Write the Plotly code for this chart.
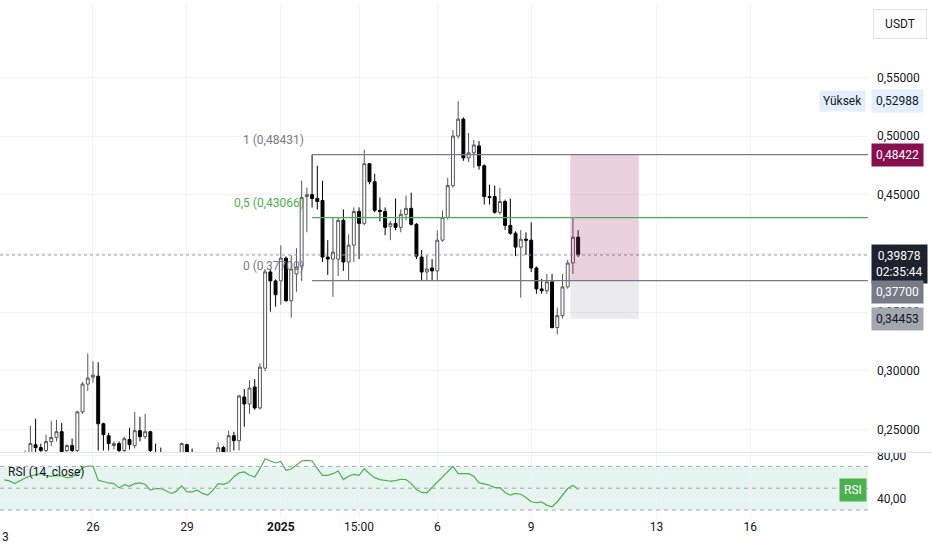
"""4h candles with fib levels, long position box and RSI - redrawn from a TradingView screenshot"""

import pandas as pd
import plotly.graph_objects as go

# candle data (4h bars, first bar 23 Dec 04:00)
opens = [0.222, 0.221, 0.219, 0.222, 0.226, 0.229, 0.2372, 0.2347, 0.2322, 0.2398,
         0.2432, 0.2482, 0.2322, 0.2364, 0.2322, 0.2651, 0.2888, 0.2947, 0.2955, 0.2550,
         0.2448, 0.2364, 0.2381, 0.2322, 0.2415, 0.2364, 0.2491, 0.2440, 0.2482, 0.2300,
         0.2270, 0.2250, 0.2240, 0.2220, 0.2250, 0.2372, 0.2280, 0.2250, 0.2230, 0.2210,
         0.2240, 0.2270, 0.2347, 0.2300, 0.2448, 0.2406, 0.2778, 0.2719, 0.2863, 0.2685,
         0.3023, 0.3843, 0.3767, 0.3767, 0.3961, 0.3598, 0.3826, 0.3894, 0.4485, 0.4502,
         0.4469, 0.4452, 0.3970, 0.3953, 0.3953, 0.4283, 0.3928, 0.4071, 0.4359, 0.4257,
         0.4765, 0.4612, 0.4368, 0.4359, 0.4232, 0.4257, 0.4223, 0.4334, 0.4385, 0.4249,
         0.3970, 0.3843, 0.3877, 0.3852, 0.4114, 0.4308, 0.4579, 0.5001, 0.5145, 0.4815,
         0.4858, 0.4917, 0.4748, 0.4485, 0.4485, 0.4351, 0.4443, 0.4240, 0.4173, 0.4055,
         0.4122, 0.4114, 0.3877, 0.3699, 0.3683, 0.3759, 0.3370, 0.3471, 0.3716, 0.3919,
         0.4139]
highs = [0.226, 0.225, 0.224, 0.227, 0.2322, 0.2532, 0.2592, 0.2380, 0.2457, 0.2575,
         0.2583, 0.2558, 0.2375, 0.2423, 0.2660, 0.2905, 0.3150, 0.3082, 0.3074, 0.2560,
         0.2473, 0.2400, 0.2400, 0.2440, 0.2516, 0.2651, 0.2609, 0.2634, 0.2490, 0.2381,
         0.2347, 0.2280, 0.2270, 0.2260, 0.2390, 0.2380, 0.2339, 0.2280, 0.2270, 0.2260,
         0.2280, 0.2390, 0.2360, 0.2491, 0.2482, 0.2795, 0.2846, 0.2922, 0.2930, 0.3065,
         0.3860, 0.3870, 0.3780, 0.4071, 0.3975, 0.3987, 0.4046, 0.4621, 0.4562, 0.4843,
         0.4748, 0.4621, 0.4114, 0.4308, 0.4308, 0.4376, 0.4164, 0.4393, 0.4393, 0.4883,
         0.4770, 0.4680, 0.4477, 0.4393, 0.4280, 0.4469, 0.4376, 0.4494, 0.4519, 0.4260,
         0.4030, 0.3987, 0.3953, 0.4198, 0.4368, 0.4646, 0.5052, 0.52988, 0.5160, 0.5027,
         0.4968, 0.4959, 0.4760, 0.4587, 0.4579, 0.4562, 0.4460, 0.4469, 0.4190, 0.4200,
         0.4180, 0.4266, 0.3890, 0.3784, 0.3826, 0.3826, 0.3539, 0.3826, 0.3945, 0.4307,
         0.4198]
lows = [0.217, 0.216, 0.214, 0.218, 0.221, 0.226, 0.230, 0.228, 0.229, 0.236,
        0.240, 0.226, 0.228, 0.228, 0.229, 0.2634, 0.2829, 0.2900, 0.2322, 0.2322,
        0.2322, 0.2330, 0.2280, 0.2290, 0.2330, 0.2340, 0.2400, 0.2420, 0.2290, 0.2220,
        0.2200, 0.2190, 0.2180, 0.2170, 0.2230, 0.2240, 0.2210, 0.2190, 0.2180, 0.2170,
        0.2200, 0.2250, 0.2270, 0.2280, 0.2322, 0.2322, 0.2524, 0.2634, 0.2670, 0.2670,
        0.2998, 0.3505, 0.3547, 0.3564, 0.3590, 0.3454, 0.3674, 0.3767, 0.4181, 0.4393,
        0.4376, 0.3928, 0.3818, 0.3632, 0.3809, 0.3852, 0.3767, 0.3928, 0.3953, 0.4240,
        0.4590, 0.4351, 0.4274, 0.4156, 0.4114, 0.4198, 0.4181, 0.4283, 0.4240, 0.3953,
        0.3767, 0.3770, 0.3770, 0.3770, 0.4100, 0.4290, 0.4560, 0.4980, 0.4790, 0.4780,
        0.4731, 0.4714, 0.4418, 0.4418, 0.4340, 0.4330, 0.4200, 0.4160, 0.3978, 0.3624,
        0.3987, 0.3843, 0.3657, 0.3657, 0.3657, 0.3361, 0.3311, 0.3446, 0.3700, 0.3826,
        0.3970]
closes = [0.221, 0.219, 0.222, 0.226, 0.229, 0.2381, 0.2347, 0.2322, 0.2398, 0.2432,
          0.2482, 0.2313, 0.2364, 0.2322, 0.2651, 0.2888, 0.2939, 0.2964, 0.2550, 0.2457,
          0.2381, 0.2381, 0.2322, 0.2423, 0.2372, 0.2491, 0.2440, 0.2482, 0.2322, 0.2270,
          0.2250, 0.2240, 0.2220, 0.2250, 0.2381, 0.2280, 0.2250, 0.2230, 0.2210, 0.2240,
          0.2270, 0.2347, 0.2310, 0.2448, 0.2406, 0.2787, 0.2719, 0.2854, 0.2685, 0.3032,
          0.3843, 0.3767, 0.3649, 0.3961, 0.3598, 0.3868, 0.3885, 0.4477, 0.4502, 0.4469,
          0.4443, 0.3970, 0.3953, 0.4012, 0.4283, 0.3928, 0.4071, 0.4359, 0.4257, 0.4765,
          0.4612, 0.4368, 0.4359, 0.4223, 0.4257, 0.4223, 0.4334, 0.4385, 0.4249, 0.3978,
          0.3843, 0.3868, 0.3852, 0.4114, 0.4308, 0.4579, 0.5001, 0.5145, 0.4815, 0.4858,
          0.4925, 0.4748, 0.4485, 0.4477, 0.4351, 0.4443, 0.4240, 0.4173, 0.4055, 0.4122,
          0.4114, 0.3877, 0.3699, 0.3683, 0.3759, 0.3370, 0.3471, 0.3716, 0.3919, 0.4139,
          0.39878]
rsi = [57.6, 56.7, 54.2, 57.0, 59.4, 61.2, 62.4, 63.3, 61.8, 60.9,
       61.8, 61.2, 59.4, 60.3, 63.3, 68.8, 70.3, 70.0, 57.3, 55.8,
       54.8, 54.2, 50.3, 53.3, 51.8, 54.2, 54.8, 53.6, 48.2, 49.7,
       49.7, 47.6, 45.2, 47.3, 52.1, 46.7, 46.7, 48.2, 45.2, 43.6,
       48.2, 54.2, 53.6, 55.2, 60.3, 64.0, 64.9, 61.8, 60.3, 67.9,
       77.0, 74.9, 73.1, 74.6, 66.4, 67.6, 70.9, 74.9, 75.5, 74.9,
       67.9, 61.8, 61.8, 63.3, 65.8, 57.9, 60.9, 62.7, 61.8, 67.9,
       63.3, 59.7, 57.9, 57.3, 56.4, 57.0, 58.2, 57.9, 54.2, 48.8,
       46.1, 45.8, 50.6, 55.2, 59.7, 64.9, 70.0, 63.3, 63.0, 63.3,
       60.9, 54.8, 53.9, 52.7, 50.6, 50.6, 46.1, 43.6, 45.2, 44.5,
       41.5, 37.6, 36.7, 37.3, 34.5, 33.0, 37.6, 43.6, 49.7, 52.7,
       48.8]

times = pd.date_range("2024-12-23 04:00", periods=len(closes), freq="4h")

price_ticks = [0.25, 0.30, 0.35, 0.40, 0.45, 0.50, 0.55]
price_labels = ["0,25000", "0,30000", "0,35000", "0,40000", "0,45000", "0,50000", "0,55000"]
rsi_ticks = [40, 80]
rsi_labels = ["40,00", "80,00"]
date_ticks = ["2024-12-26", "2024-12-29", "2025-01-01", "2025-01-03 12:00",
              "2025-01-06", "2025-01-09", "2025-01-13", "2025-01-16"]
date_labels = ["26", "29", "<b>2025</b>", "15:00", "6", "9", "13", "16"]

fib_names = ["1 (0,48431)", "0,5 (0,43066)", "0 (0,37700)"]
fib_prices = [0.48431, 0.43066, 0.37700]
fib_colors = ["#787b86", "#4caf50", "#787b86"]
fib_start = "2025-01-02 00:00"

target, entry, stop = 0.48422, 0.37700, 0.34453
box_start, box_end = "2025-01-10 06:00", "2025-01-12 10:30"
last_price = 0.39878
high_price = 0.52988

x_range = ["2024-12-23 00:42", "2025-01-19 18:15"]
txt = "#131722"
grid = "#f0f3fa"
font_name = "Roboto"
rsi_top = 66 / 518

fig = go.Figure()
fig.add_trace(go.Candlestick(
    x=times, open=opens, high=highs, low=lows, close=closes,
    increasing=dict(line=dict(color="#555555", width=1), fillcolor="#ffffff"),
    decreasing=dict(line=dict(color="#000000", width=1), fillcolor="#000000"),
    whiskerwidth=0, hoverinfo="skip", xaxis="x", yaxis="y"))
fig.add_trace(go.Scatter(
    x=times, y=rsi, mode="lines", line=dict(color="#4caf50", width=1.2),
    hoverinfo="skip", xaxis="x2", yaxis="y2"))

shapes = []
# rsi band and levels
shapes.append(dict(type="rect", xref="paper", yref="y2", x0=0, x1=1, y0=30, y1=70,
                   fillcolor="rgba(38,166,120,0.11)", line=dict(width=0), layer="below"))
for lvl in [70, 50, 30]:
    shapes.append(dict(type="line", xref="paper", yref="y2", x0=0, x1=1, y0=lvl, y1=lvl,
                       line=dict(color="#a3a6af", width=1, dash="4px,4px")))
# pane separator, plus a white strip that cuts the top of the "80,00" label
shapes.append(dict(type="rect", xref="paper", yref="paper", x0=1, x1=1.08,
                   y0=rsi_top, y1=rsi_top + 14 / 518, fillcolor="#ffffff",
                   line=dict(width=0), layer="above"))
shapes.append(dict(type="line", xref="paper", yref="paper", x0=0, x1=1.08, y0=rsi_top, y1=rsi_top,
                   line=dict(color="#e0e3eb", width=1)))
# last price line
shapes.append(dict(type="line", xref="paper", yref="y", x0=0, x1=1, y0=last_price, y1=last_price,
                   line=dict(color="#9598a1", width=1, dash="dot")))
# long position box
shapes.append(dict(type="rect", xref="x", yref="y", x0=box_start, x1=box_end, y0=entry, y1=target,
                   fillcolor="rgba(164,42,104,0.22)", line=dict(width=0)))
shapes.append(dict(type="rect", xref="x", yref="y", x0=box_start, x1=box_end, y0=stop, y1=entry,
                   fillcolor="rgba(120,123,134,0.15)", line=dict(width=0)))
# fib retracement
for p, c in zip(fib_prices, fib_colors):
    shapes.append(dict(type="line", xref="x", yref="y", x0=fib_start, x1=x_range[1], y0=p, y1=p,
                       line=dict(color=c, width=1.3)))

ann = []
for name, p, c in zip(fib_names, fib_prices, fib_colors):
    ann.append(dict(x=fib_start, y=p, xref="x", yref="y", text=name, showarrow=False,
                    xanchor="right", yanchor="bottom", xshift=-6, yshift=6,
                    font=dict(size=12, color=c)))


def axis_label(y, text, bg, fg="#ffffff", yanchor="middle", yshift=0):
    return dict(x=1, y=y, xref="paper", yref="y", text=text, showarrow=False,
                xanchor="left", yanchor=yanchor, xshift=3, yshift=yshift,
                bgcolor=bg, borderpad=4, font=dict(size=12, color=fg))


ann.append(axis_label(target, "0,48422", "#880e4f"))
ann.append(axis_label(last_price, "0,39878<br>02:35:44", "#1e222d", yanchor="top", yshift=11))
ann.append(axis_label(entry, "0,37700", "#787b86", yshift=-11))
ann.append(axis_label(stop, "0,34453", "#a3a6af", fg=txt))
ann.append(axis_label(high_price, "0,52988", "#e3effd", fg=txt))
ann.append(dict(x=1, y=high_price, xref="paper", yref="y", text="Yüksek", showarrow=False,
                xanchor="right", xshift=-2, bgcolor="#e3effd", borderpad=3,
                font=dict(size=12, color=txt)))
ann.append(dict(x=1, y=1, xref="paper", yref="paper", text="USDT", showarrow=False,
                xanchor="left", yanchor="top", xshift=5, yshift=-5, width=38, bgcolor="#ffffff",
                bordercolor="#e0e3eb", borderwidth=1, borderpad=7,
                font=dict(size=12, color=txt)))
ann.append(dict(x=0, y=64.5, xref="paper", yref="y2", text="RSI (14, close)", showarrow=False,
                xanchor="left", xshift=6, font=dict(size=12, color=txt)))
ann.append(dict(x=1, y=rsi[-1], xref="paper", yref="y2", text="RSI", showarrow=False,
                xanchor="right", xshift=-1, bgcolor="#4caf50", borderpad=4,
                font=dict(size=12, color="#ffffff")))
ann.append(dict(x=0, y=0, xref="paper", yref="paper", text="3", showarrow=False,
                xanchor="left", yanchor="top", yshift=-10, font=dict(size=12, color=txt)))

fig.update_layout(
    width=932, height=550,
    margin=dict(l=0, r=64, t=0, b=32),
    paper_bgcolor="#ffffff", plot_bgcolor="#ffffff",
    font=dict(family=font_name, size=12, color=txt),
    showlegend=False, boxgap=0.2,
    shapes=shapes, annotations=ann,
    xaxis=dict(domain=[0, 1], anchor="y", range=x_range, tickvals=date_ticks,
               showticklabels=False, showgrid=True, gridcolor=grid,
               zeroline=False, showline=False, rangeslider=dict(visible=False)),
    xaxis2=dict(domain=[0, 1], anchor="y2", range=x_range, tickvals=date_ticks,
                ticktext=date_labels, showgrid=True, gridcolor=grid, zeroline=False,
                showline=False, tickfont=dict(size=12, color=txt)),
    yaxis=dict(domain=[rsi_top, 1], side="right", range=[0.2305, 0.6126],
               tickvals=price_ticks, ticktext=price_labels, showgrid=True, gridcolor=grid,
               zeroline=False, ticklabelstandoff=8, tickfont=dict(size=12, color=txt)),
    yaxis2=dict(domain=[0, rsi_top], side="right", range=[22.7, 82.7],
                tickvals=rsi_ticks, ticktext=rsi_labels, showgrid=True, gridcolor=grid,
                zeroline=False, ticklabelstandoff=8, tickfont=dict(size=12, color=txt)),
)

fig.write_html("out.html", config={"displayModeBar": False},
               post_script="document.body.style.margin='0';")
